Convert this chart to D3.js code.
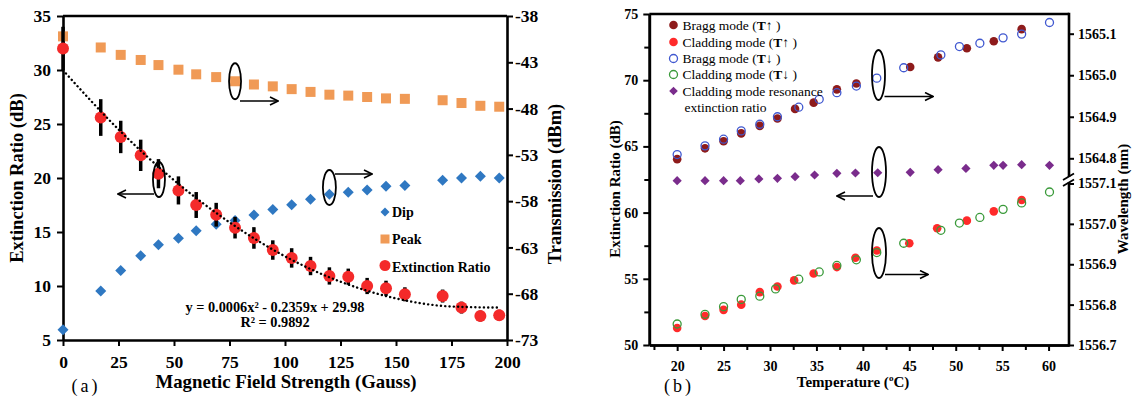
<!DOCTYPE html>
<html>
<head>
<meta charset="utf-8">
<script src="https://cdn.jsdelivr.net/npm/d3@7"></script>
<style>
  body { margin: 0; background: #fff; }
  svg text { font-family: "Liberation Serif", "Times New Roman", serif; }
</style>
</head>
<body>
<svg id="chart" width="1135" height="398"></svg>
<script>
// ---------- panel (a) data ----------
const fieldGauss = [0, 17, 26, 35, 43, 52, 60, 69, 77.5, 86, 94.5, 103, 111.5, 120, 128.5, 137, 145.5, 154, 171, 179.5, 188, 196.5];
const dipDbm = [-71.9, -67.7, -65.5, -63.9, -62.7, -62.0, -61.2, -60.5, -60.1, -59.5, -58.9, -58.4, -57.8, -57.25, -57.05, -56.8, -56.4, -56.3, -55.75, -55.5, -55.3, -55.5];
const peakDbm = [-40.2, -41.4, -42.2, -42.75, -43.3, -43.8, -44.3, -44.6, -45.05, -45.4, -45.6, -45.9, -46.2, -46.5, -46.6, -46.75, -46.9, -46.95, -47.1, -47.4, -47.7, -47.8];
const extRatio = [32, 25.6, 23.8, 22.1, 20.4, 18.85, 17.5, 16.6, 15.4, 14.45, 13.33, 12.6, 11.85, 10.93, 10.86, 10.0, 9.79, 9.23, 9.07, 8.0, 7.22, 7.3];
const extErr = [2.0, 1.7, 1.5, 1.45, 1.35, 1.3, 1.2, 1.1, 1.0, 1.0, 0.9, 0.9, 0.85, 0.8, 0.75, 0.75, 0.7, 0.65, 0.6, 0.55, 0.5, 0.5];
// dotted trend line
const trendX = [0, 25, 50, 75, 100, 125, 150, 175, 197];
const trendY = [29.98, 24.5, 19.8, 15.9, 12.75, 10.4, 8.85, 8.1, 8.0];
const gaussTicks = [0, 25, 50, 75, 100, 125, 150, 175, 200];
const ratioTicksA = [5, 10, 15, 20, 25, 30, 35];
const dbmTicks = [-38, -43, -48, -53, -58, -63, -68, -73];
const legendA = ["Dip", "Peak", "Extinction Ratio"];

// ---------- panel (b) data ----------
const braggUpT = [20, 23, 25, 26.9, 28.9, 30.8, 32.7, 34.7, 37.2, 39.3, 45.1, 48.1, 51.2, 54.1, 57.1];
const braggUpNm = [1564.798, 1564.824, 1564.841, 1564.860, 1564.878, 1564.896, 1564.919, 1564.934, 1564.966, 1564.980, 1565.020, 1565.043, 1565.065, 1565.082, 1565.111];
const braggDownT = [20, 23, 25, 26.9, 28.9, 30.8, 33.1, 35.3, 37.2, 39.3, 41.5, 44.4, 48.4, 50.4, 52.6, 55.1, 57.1, 60.1];
const braggDownNm = [1564.809, 1564.830, 1564.846, 1564.866, 1564.882, 1564.900, 1564.923, 1564.942, 1564.958, 1564.974, 1564.993, 1565.018, 1565.049, 1565.069, 1565.077, 1565.090, 1565.099, 1565.127];
const cladUpT = [20, 23, 25, 26.9, 28.9, 30.8, 32.6, 34.7, 37.2, 39.2, 41.5, 45, 48, 51.2, 54.1, 57.1];
const cladUpNm = [1556.742, 1556.772, 1556.787, 1556.800, 1556.831, 1556.845, 1556.860, 1556.877, 1556.893, 1556.916, 1556.934, 1556.952, 1556.989, 1557.008, 1557.031, 1557.059];
const cladDownT = [20, 23, 25, 26.9, 28.9, 30.6, 33.1, 35.3, 37.2, 39.3, 41.5, 44.4, 48.4, 50.4, 52.6, 55.1, 57.1, 60.1];
const cladDownNm = [1556.752, 1556.776, 1556.795, 1556.813, 1556.821, 1556.839, 1556.863, 1556.881, 1556.897, 1556.911, 1556.929, 1556.952, 1556.984, 1557.002, 1557.016, 1557.036, 1557.052, 1557.079];
const resT = [20, 23, 25, 26.8, 28.8, 30.8, 32.7, 34.8, 37.2, 39.2, 41.6, 45.1, 48.1, 51.1, 54.1, 55.1, 57.1, 60.1];
const resDb = [62.41, 62.41, 62.41, 62.41, 62.54, 62.59, 62.71, 62.84, 62.97, 62.99, 63.01, 63.04, 63.24, 63.34, 63.57, 63.57, 63.62, 63.57];
const tempTicks = [20, 25, 30, 35, 40, 45, 50, 55, 60];
const tempMinor = [17.5, 22.5, 27.5, 32.5, 37.5, 42.5, 47.5, 52.5, 57.5];
const ratioTicksB = [50, 55, 60, 65, 70, 75];
const ratioMinorB = [52.5, 57.5, 62.5, 67.5, 72.5];
const nmUpperTicks = [1564.8, 1564.9, 1565.0, 1565.1];
const nmLowerTicks = [1556.7, 1556.8, 1556.9, 1557.0, 1557.1];

const svg = d3.select("#chart");
const FONT = '"Liberation Serif", "Times New Roman", serif';

svg.append("defs").append("marker")
  .attr("id", "arr")
  .attr("viewBox", "0 0 10 10")
  .attr("refX", 9).attr("refY", 5)
  .attr("markerWidth", 10).attr("markerHeight", 10)
  .attr("markerUnits", "userSpaceOnUse")
  .attr("orient", "auto")
  .append("path")
  .attr("d", "M1,1 L9,5 L1,9")
  .attr("fill", "none").attr("stroke", "#000").attr("stroke-width", 1.6);

function diamond(r) { return `M0,${-r} L${r},0 L0,${r} L${-r},0Z`; }

function styleAxis(g, fs) {
  g.select(".domain").attr("stroke", "#000").attr("stroke-width", 2.6);
  g.selectAll(".tick line").attr("stroke", "#000").attr("stroke-width", 2);
  g.selectAll(".tick text").attr("fill", "#000")
    .style("font-family", FONT).style("font-weight", "bold").style("font-size", fs + "px");
}

function annot(cx, cy, rx, ry, x1, y1, x2, y2) {
  svg.append("ellipse").attr("cx", cx).attr("cy", cy).attr("rx", rx).attr("ry", ry)
    .attr("fill", "none").attr("stroke", "#000").attr("stroke-width", 1.8);
  svg.append("line").attr("x1", x1).attr("y1", y1).attr("x2", x2).attr("y2", y2)
    .attr("stroke", "#000").attr("stroke-width", 1.6).attr("marker-end", "url(#arr)");
}

// =================== panel (a) ===================
const A = { left: 63, right: 507, top: 16, bottom: 340 };
const xA = d3.scaleLinear().domain([0, 200]).range([A.left, A.right]);
const yA = d3.scaleLinear().domain([5, 35]).range([A.bottom, A.top]);
const yA2 = d3.scaleLinear().domain([-73, -38]).range([A.bottom, A.top]);

svg.append("line").attr("x1", A.left).attr("x2", A.right).attr("y1", A.top).attr("y2", A.top)
  .attr("stroke", "#000").attr("stroke-width", 2.6);

svg.append("g").attr("transform", `translate(0,${A.bottom})`)
  .call(d3.axisBottom(xA).tickValues(gaussTicks).tickSize(6).tickSizeOuter(0).tickPadding(10))
  .call(g => styleAxis(g, 17.5));
svg.append("g").attr("transform", `translate(${A.left},0)`)
  .call(d3.axisLeft(yA).tickValues(ratioTicksA).tickSize(6).tickSizeOuter(0).tickPadding(6))
  .call(g => styleAxis(g, 17.5));
svg.append("g").attr("transform", `translate(${A.right},0)`)
  .call(d3.axisRight(yA2).tickValues(dbmTicks).tickSize(6).tickSizeOuter(0).tickPadding(2).tickFormat(d => String(d)))
  .call(g => styleAxis(g, 17.5));

const peakCol = "#F09A56", dipCol = "#2F78C2", erCol = "#F42A2A";

svg.append("g").selectAll("rect").data(fieldGauss).enter().append("rect")
  .attr("x", (d) => xA(d) - 5).attr("y", (d, i) => yA2(peakDbm[i]) - 5)
  .attr("width", 10).attr("height", 10).attr("fill", peakCol);

svg.append("g").selectAll("path").data(fieldGauss).enter().append("path")
  .attr("transform", (d, i) => `translate(${xA(d)},${yA2(dipDbm[i])})`)
  .attr("d", diamond(5.5)).attr("fill", dipCol);

svg.append("g").selectAll("line").data(fieldGauss).enter().append("line")
  .attr("x1", (d) => xA(d)).attr("x2", (d) => xA(d))
  .attr("y1", (d, i) => yA(extRatio[i] + extErr[i]))
  .attr("y2", (d, i) => yA(extRatio[i] - extErr[i]))
  .attr("stroke", "#000").attr("stroke-width", 3.5);

svg.append("g").selectAll("circle").data(fieldGauss).enter().append("circle")
  .attr("cx", (d) => xA(d)).attr("cy", (d, i) => yA(extRatio[i]))
  .attr("r", 6).attr("fill", erCol);

svg.append("path")
  .datum(trendX.map((x, i) => [x, trendY[i]]))
  .attr("d", d3.line().x(d => xA(d[0])).y(d => yA(d[1])).curve(d3.curveMonotoneX))
  .attr("fill", "none").attr("stroke", "#000").attr("stroke-width", 2.4)
  .attr("stroke-dasharray", "0.1,4.2").attr("stroke-linecap", "round");

// legend (a)
const legA = svg.append("g").attr("transform", "translate(385,212)");
legA.append("path").attr("d", diamond(4.5)).attr("fill", dipCol);
legA.append("rect").attr("x", -4.5).attr("y", 22.5).attr("width", 9).attr("height", 9).attr("fill", peakCol);
legA.append("circle").attr("cy", 53.5).attr("r", 5.5).attr("fill", erCol);
legA.selectAll("text").data(legendA).enter().append("text")
  .attr("x", 7).attr("y", (d, i) => i * 27 + (i === 2 ? 0.5 : 0) + 5)
  .style("font-weight", "bold").style("font-size", "14px").text(d => d);

svg.append("text").attr("x", 275).attr("y", 312).attr("text-anchor", "middle")
  .style("font-weight", "bold").style("font-size", "14.3px")
  .text("y = 0.0006x² - 0.2359x + 29.98");
svg.append("text").attr("x", 275).attr("y", 327).attr("text-anchor", "middle")
  .style("font-weight", "bold").style("font-size", "14.3px")
  .text("R² = 0.9892");

annot(xA(77.5), yA2(-45.05), 6, 18, 240, 101, 278, 101);
annot(xA(43) + 0.5, 179.5, 6, 17.5, 154, 194, 118, 194);
annot(xA(120), 187.5, 6.5, 17.5, 335, 174, 372, 174);

svg.append("text").attr("transform", `translate(23,${(A.top + A.bottom) / 2}) rotate(-90)`)
  .attr("text-anchor", "middle").style("font-weight", "bold").style("font-size", "18.5px")
  .text("Extinction Ratio (dB)");
svg.append("text").attr("transform", "translate(561,184) rotate(-90)")
  .attr("text-anchor", "middle").style("font-weight", "bold").style("font-size", "18.5px")
  .text("Transmission (dBm)");
svg.append("text").attr("x", 286).attr("y", 388).attr("text-anchor", "middle")
  .style("font-weight", "bold").style("font-size", "18.8px")
  .text("Magnetic Field Strength (Gauss)");
svg.append("text").attr("x", 86).attr("y", 392).attr("text-anchor", "middle")
  .style("font-size", "18px").style("letter-spacing", "3px").text("(a)");

// =================== panel (b) ===================
const B = { left: 649.3, right: 1069, top: 14, bottom: 345 };
const xB = d3.scaleLinear().domain([17, 62.2]).range([B.left, B.right]);
const yB = d3.scaleLinear().domain([50, 75]).range([B.bottom, B.top]);
const yUp = d3.scaleLinear().domain([1564.8, 1565.1]).range([158.3, 33.7]);
const yLow = d3.scaleLinear().domain([1556.7, 1557.1]).range([B.bottom, 183.5]);

svg.append("line").attr("x1", B.left).attr("x2", B.right).attr("y1", B.top).attr("y2", B.top)
  .attr("stroke", "#000").attr("stroke-width", 2.6);

svg.append("g").attr("transform", `translate(0,${B.bottom})`)
  .call(d3.axisBottom(xB).tickValues(tempMinor).tickSize(5).tickSizeOuter(0).tickFormat(""))
  .call(g => styleAxis(g, 14));
svg.append("g").attr("transform", `translate(0,${B.bottom})`)
  .call(d3.axisBottom(xB).tickValues(tempTicks).tickSize(6).tickSizeOuter(0).tickPadding(10))
  .call(g => styleAxis(g, 14));
svg.append("g").attr("transform", `translate(${B.left},0)`)
  .call(d3.axisLeft(yB).tickValues(ratioMinorB).tickSize(5).tickSizeOuter(0).tickFormat(""))
  .call(g => styleAxis(g, 14));
svg.append("g").attr("transform", `translate(${B.left},0)`)
  .call(d3.axisLeft(yB).tickValues(ratioTicksB).tickSize(6).tickSizeOuter(0).tickPadding(5))
  .call(g => styleAxis(g, 14));

// right axis with a break
svg.append("line").attr("x1", B.right).attr("x2", B.right).attr("y1", B.top - 1.3).attr("y2", B.bottom + 1.3)
  .attr("stroke", "#000").attr("stroke-width", 2.6);
[[yUp, nmUpperTicks], [yLow, nmLowerTicks]].forEach(([sc, tv]) => {
  svg.append("g").attr("transform", `translate(${B.right},0)`)
    .call(d3.axisRight(sc).tickValues(tv).tickSize(5).tickSizeOuter(0).tickPadding(4).tickFormat(d3.format(".1f")))
    .call(g => styleAxis(g, 14))
    .call(g => g.select(".domain").remove());
});
svg.append("rect").attr("x", B.right - 4).attr("y", 177).attr("width", 8).attr("height", 5).attr("fill", "#fff");
svg.append("line").attr("x1", B.right - 6).attr("y1", 180).attr("x2", B.right + 5).attr("y2", 173.5)
  .attr("stroke", "#000").attr("stroke-width", 1.8);
svg.append("line").attr("x1", B.right - 6).attr("y1", 186).attr("x2", B.right + 5).attr("y2", 179.5)
  .attr("stroke", "#000").attr("stroke-width", 1.8);

const braggUpCol = "#8E1B1B", cladUpCol = "#FF2A2A", braggDownCol = "#4058D0", cladDownCol = "#3A9A3A", resCol = "#7A2C8C";

svg.append("g").selectAll("path").data(resT).enter().append("path")
  .attr("transform", (d, i) => `translate(${xB(d)},${yB(resDb[i])})`)
  .attr("d", diamond(4.6)).attr("fill", resCol);

svg.append("g").selectAll("circle").data(braggUpT).enter().append("circle")
  .attr("cx", d => xB(d)).attr("cy", (d, i) => yUp(braggUpNm[i])).attr("r", 4.3).attr("fill", braggUpCol);
svg.append("g").selectAll("circle").data(cladUpT).enter().append("circle")
  .attr("cx", d => xB(d)).attr("cy", (d, i) => yLow(cladUpNm[i])).attr("r", 4.3).attr("fill", cladUpCol);
svg.append("g").selectAll("circle").data(braggDownT).enter().append("circle")
  .attr("cx", d => xB(d)).attr("cy", (d, i) => yUp(braggDownNm[i])).attr("r", 4)
  .attr("fill", "none").attr("stroke", braggDownCol).attr("stroke-width", 1.3);
svg.append("g").selectAll("circle").data(cladDownT).enter().append("circle")
  .attr("cx", d => xB(d)).attr("cy", (d, i) => yLow(cladDownNm[i])).attr("r", 4)
  .attr("fill", "none").attr("stroke", cladDownCol).attr("stroke-width", 1.3);

// legend (b)
const legB = svg.append("g").attr("transform", "translate(673.5,0)");
legB.append("circle").attr("cy", 25).attr("r", 4.3).attr("fill", braggUpCol);
legB.append("circle").attr("cy", 42).attr("r", 4.3).attr("fill", cladUpCol);
legB.append("circle").attr("cy", 58.5).attr("r", 4).attr("fill", "none").attr("stroke", braggDownCol).attr("stroke-width", 1.3);
legB.append("circle").attr("cy", 74.5).attr("r", 4).attr("fill", "none").attr("stroke", cladDownCol).attr("stroke-width", 1.3);
legB.append("path").attr("transform", "translate(0,91)").attr("d", diamond(4.3)).attr("fill", resCol);
const legTexts = [["Bragg mode (", "T", "↑ )"], ["Cladding mode (", "T", "↑ )"], ["Bragg mode (", "T", "↓ )"], ["Cladding mode (", "T", "↓ )"]];
const legY = [25, 42, 58.5, 74.5];
legTexts.forEach((p, i) => {
  const t = legB.append("text").attr("x", 9).attr("y", legY[i] + 4.5).style("font-size", "13.5px");
  t.append("tspan").text(p[0]);
  t.append("tspan").style("font-weight", "bold").text(p[1]);
  t.append("tspan").text(p[2]);
});
legB.append("text").attr("x", 9).attr("y", 95.5).style("font-size", "13.5px").text("Cladding mode resonance");
legB.append("text").attr("x", 11).attr("y", 111.5).style("font-size", "13.5px").text("extinction ratio");

annot(878.5, 75, 6.5, 25, 884.5, 96.5, 933, 96.5);
annot(879, 172, 7, 25, 873, 196, 837, 196);
annot(879, 253, 7, 25, 885, 274.5, 928, 274.5);

svg.append("text").attr("transform", "translate(620,189) rotate(-90)")
  .attr("text-anchor", "middle").style("font-weight", "bold").style("font-size", "15px")
  .text("Extinction Ratio (dB)");
svg.append("text").attr("transform", "translate(1128,199) rotate(-90)")
  .attr("text-anchor", "middle").style("font-weight", "bold").style("font-size", "15px")
  .text("Wavelength (nm)");
const tt = svg.append("text").attr("x", 853).attr("y", 387).attr("text-anchor", "middle")
  .style("font-weight", "bold").style("font-size", "15px");
tt.append("tspan").text("Temperature (");
tt.append("tspan").attr("font-size", "9px").attr("dy", -6).text("o");
tt.append("tspan").attr("dy", 6).text("C)");
svg.append("text").attr("x", 679).attr("y", 392).attr("text-anchor", "middle")
  .style("font-size", "18px").style("letter-spacing", "3px").text("(b)");
</script>
</body>
</html>
